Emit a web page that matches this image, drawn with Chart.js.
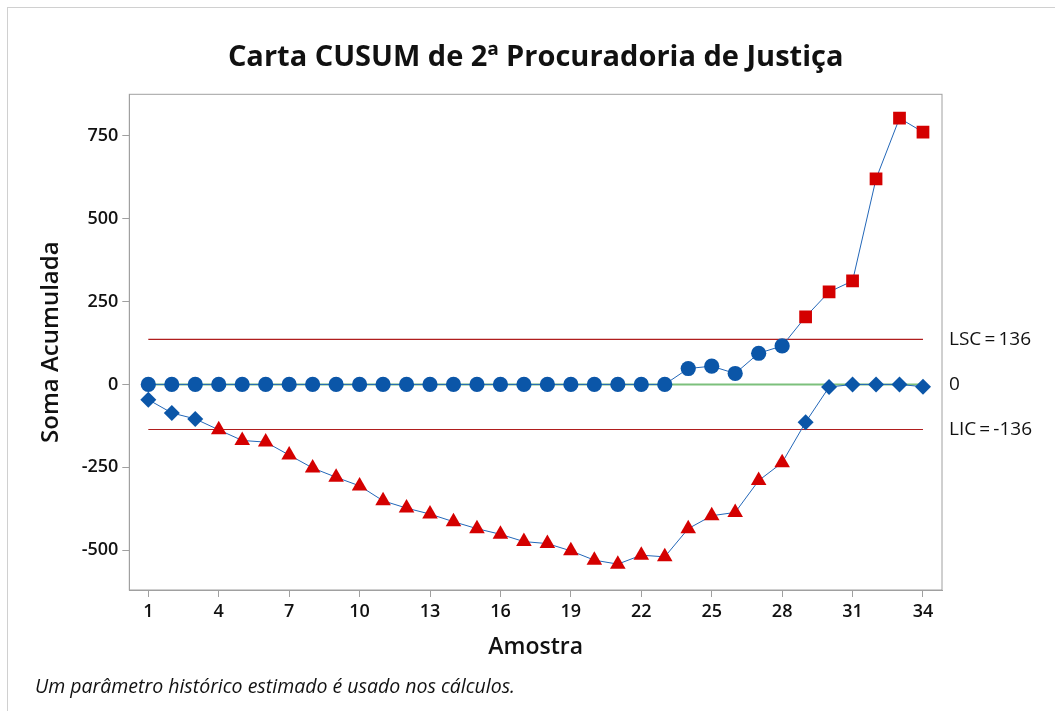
<!DOCTYPE html>
<html>
<head>
<meta charset="utf-8">
<script src="https://cdn.jsdelivr.net/npm/chart.js@4.4.0/dist/chart.umd.min.js"></script>
<style>
    body { margin: 0; background: #fff; }
    #wrap { position: relative; width: 1055px; height: 711px; overflow: hidden; }
    #frame { position: absolute; left: 7px; top: 7px; right: -10px; bottom: -10px;
             border-left: 1px solid #d0d0d0; border-top: 1px solid #d0d0d0; pointer-events: none; }
    #note { position: absolute; left: 35px; top: 673px; font: italic 19.5px "Open Sans", sans-serif; color: #111; line-height: 26px; }
</style>
</head>
<body>
<div id="wrap">
    <canvas id="cusum" width="1055" height="711"></canvas>
    <div id="frame"></div>
    <div id="note">Um parâmetro histórico estimado é usado nos cálculos.</div>
</div>
<script>
// Data
const samples = Array.from({ length: 34 }, (_, i) => i + 1);
const upperCusum = [0, 0, 0, 0, 0, 0, 0, 0, 0, 0, 0, 0, 0, 0, 0, 0, 0, 0, 0, 0, 0, 0, 0,
                    48, 55, 33, 94, 116, 204, 279, 312, 620, 803, 761];
const lowerCusum = [-46, -86, -104, -137, -169, -174, -213, -252, -280, -306, -351, -373, -391, -414, -435, -452, -474,
                    -480, -502, -530, -542, -515, -520, -435, -396, -386, -290, -236, -114, -8, 0, 0, 0, -7];
const limitUpper = 136;
const limitLower = -136;
const centerLine = 0;
const xTicks = [1, 4, 7, 10, 13, 16, 19, 22, 25, 28, 31, 34];
const yTicks = [-500, -250, 0, 250, 500, 750];

const BLUE = "#0b56a8";
const RED = "#d40000";
const LINE = "#2367b8";
const LIMIT = "#b01e1e";
const GREEN = "#7cc07c";
const AXIS = "#a0a0a0";
const FONT = '"Open Sans", sans-serif';

const upPoints = samples.map((s, i) => ({ x: s, y: upperCusum[i] }));
const lowPoints = samples.map((s, i) => ({ x: s, y: lowerCusum[i] }));
const upOut = upperCusum.map(v => v > limitUpper);
const lowOut = lowerCusum.map(v => v < limitLower);

function hline(value, color, width) {
    return {
        data: [{ x: samples[0], y: value }, { x: samples[samples.length - 1], y: value }],
        borderColor: color, borderWidth: width, pointRadius: 0, showLine: true
    };
}

// right side labels + plot frame
const sideLabels = {
    id: "sideLabels",
    beforeDatasetsDraw(chart) {
        const { ctx, chartArea: a } = chart;
        ctx.save();
        ctx.strokeStyle = AXIS;
        ctx.lineWidth = 1;
        ctx.strokeRect(a.left, a.top, a.right - a.left, a.bottom - a.top);
        ctx.restore();
    },
    afterDraw(chart) {
        const { ctx, chartArea: a, scales: { y } } = chart;
        ctx.save();
        ctx.font = "19px " + FONT;
        ctx.fillStyle = "#111";
        ctx.textBaseline = "middle";
        ctx.textAlign = "left";
        ctx.fillText("LSC\u2009=\u2009" + limitUpper, a.right + 7, y.getPixelForValue(limitUpper));
        ctx.fillText(String(centerLine), a.right + 7, y.getPixelForValue(centerLine));
        ctx.fillText("LIC\u2009=\u2009" + limitLower, a.right + 7, y.getPixelForValue(limitLower));
        ctx.restore();
    }
};

new Chart(document.getElementById("cusum"), {
    type: "scatter",
    data: {
        datasets: [
            {
                data: upPoints, showLine: true, borderColor: LINE, borderWidth: 1,
                pointStyle: upOut.map(o => o ? "rect" : "circle"),
                pointRadius: upOut.map(o => o ? 9 : 7.6),
                pointBackgroundColor: upOut.map(o => o ? RED : BLUE),
                pointBorderWidth: 0
            },
            {
                data: lowPoints, showLine: true, borderColor: LINE, borderWidth: 1,
                pointStyle: lowOut.map(o => o ? "triangle" : "rectRot"),
                pointRadius: lowOut.map(o => o ? 9 : 8),
                pointBackgroundColor: lowOut.map(o => o ? RED : BLUE),
                pointBorderWidth: 0
            },
            hline(limitUpper, LIMIT, 1.2),
            hline(limitLower, LIMIT, 1.2),
            hline(centerLine, GREEN, 2)
        ]
    },
    options: {
        responsive: false,
        animation: false,
        layout: { padding: { left: 0, right: 113, top: 0, bottom: 0 } },
        plugins: {
            legend: { display: false },
            tooltip: { enabled: false },
            title: {
                display: true,
                fullSize: false,
                text: "Carta CUSUM de 2ª Procuradoria de Justiça",
                color: "#111",
                font: { family: FONT, size: 29, weight: "bold" },
                padding: { top: 40, bottom: 19.5 }
            }
        },
        scales: {
            x: {
                type: "linear",
                min: 0.19, max: 34.81,
                afterBuildTicks: s => { s.ticks = xTicks.map(v => ({ value: v })); },
                afterFit: s => { s.height = 121; },
                grid: { drawOnChartArea: false, tickLength: 7, color: AXIS },
                border: { color: AXIS },
                ticks: { color: "#111", padding: 4, font: { family: FONT, size: 18, weight: "600" } },
                title: {
                    display: true, text: "Amostra", color: "#111",
                    font: { family: FONT, size: 23, weight: "600" },
                    padding: { top: 0, bottom: 50 }
                }
            },
            y: {
                min: -620, max: 875,
                afterBuildTicks: s => { s.ticks = yTicks.map(v => ({ value: v })); },
                afterFit: s => { s.width = 129.3; },
                grid: { drawOnChartArea: false, tickLength: 7, color: AXIS },
                border: { color: AXIS },
                ticks: { color: "#111", padding: 4, font: { family: FONT, size: 18, weight: "600" } },
                title: {
                    display: true, text: "Soma Acumulada", color: "#111",
                    font: { family: FONT, size: 24, weight: "600" },
                    padding: { top: 36.5, bottom: 0 }
                }
            }
        }
    },
    plugins: [sideLabels]
});
</script>
</body>
</html>
